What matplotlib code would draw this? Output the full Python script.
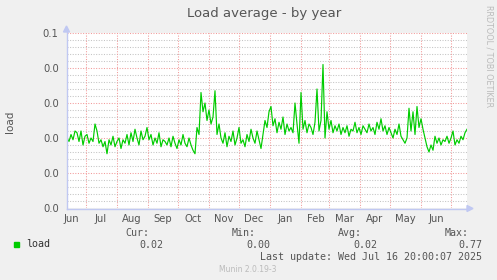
import datetime as dt
import numpy as np
import matplotlib
matplotlib.use("Agg")
import matplotlib.pyplot as plt

# ---- data -------------------------------------------------------------
start = dt.date(2024, 6, 12)          # left edge of the plot
span_days = 400
step_days = 2                          # one sample every 2 days

load = [
    0.040, 0.038, 0.042, 0.039, 0.044, 0.043, 0.038, 0.044, 0.036, 0.041,
    0.042, 0.037, 0.040, 0.038, 0.048,
    0.044, 0.037, 0.039, 0.035, 0.038,
    0.031,
    0.039, 0.036, 0.041, 0.035, 0.038, 0.040, 0.034, 0.039, 0.037,
    0.042, 0.036, 0.043, 0.038, 0.045, 0.040, 0.036, 0.044, 0.039, 0.041,
    0.046,
    0.039, 0.042, 0.036, 0.040, 0.037, 0.043, 0.035, 0.039, 0.038, 0.036,
    0.040, 0.035, 0.041, 0.037, 0.034, 0.039, 0.036, 0.042, 0.037, 0.035,
    0.040, 0.036, 0.033,
    0.031, 0.046, 0.042, 0.066,
    0.055, 0.060, 0.050, 0.056, 0.048, 0.052,
    0.067, 0.042, 0.048,
    0.040, 0.037, 0.043, 0.035, 0.041, 0.038, 0.044, 0.036, 0.040, 0.046,
    0.037, 0.039, 0.035, 0.042, 0.038, 0.045, 0.040, 0.037, 0.044, 0.039,
    0.034,
    0.042, 0.050, 0.046, 0.055, 0.058,
    0.047, 0.051, 0.043, 0.049, 0.045, 0.052, 0.042, 0.048, 0.044, 0.046,
    0.043,
    0.060, 0.048, 0.037, 0.066,
    0.045, 0.050, 0.043, 0.048, 0.046, 0.042, 0.049,
    0.068, 0.044, 0.050, 0.082, 0.040,
    0.055, 0.045, 0.050, 0.043, 0.047,
    0.044, 0.048, 0.042, 0.046, 0.043, 0.047, 0.041, 0.045, 0.044, 0.049,
    0.043, 0.046, 0.042, 0.047, 0.045, 0.043, 0.048, 0.044, 0.046, 0.042,
    0.049, 0.045, 0.051, 0.044, 0.047, 0.042, 0.046, 0.043, 0.040, 0.045,
    0.042, 0.048,
    0.041, 0.039, 0.037, 0.040,
    0.057, 0.044, 0.055, 0.042, 0.058, 0.046, 0.051, 0.045,
    0.040, 0.035, 0.032, 0.036, 0.033,
    0.041, 0.037, 0.040, 0.036, 0.039, 0.038, 0.041, 0.037, 0.040, 0.044,
    0.036, 0.039, 0.037, 0.041, 0.039, 0.043, 0.045,
]

month_labels = ["Jun", "Jul", "Aug", "Sep", "Oct", "Nov", "Dec",
                "Jan", "Feb", "Mar", "Apr", "May", "Jun"]
month_label_dates = [dt.date(2024, 6, 16)] + [
    dt.date(2024 + (m - 1) // 12, (m - 1) % 12 + 1, 16) for m in range(7, 19)]
month_start_dates = [
    dt.date(2024 + (m - 1) // 12, (m - 1) % 12 + 1, 1) for m in range(7, 20)]

y_ticks = [0.0, 0.02, 0.04, 0.06, 0.08, 0.10]
y_tick_labels = ["0.0", "0.0", "0.0", "0.0", "0.0", "0.1"]
y_minor = [0.004 * k for k in range(26)]

title = "Load average - by year"
ylabel = "load"
legend_name = "load"
stats_heads = ["Cur:", "Min:", "Avg:", "Max:"]
stats_vals = ["0.02", "0.00", "0.02", "0.77"]
last_update = "Last update: Wed Jul 16 20:00:07 2025"
footer = "Munin 2.0.19-3"
side_text = "RRDTOOL / TOBI OETIKER"

# ---- figure -----------------------------------------------------------
W, H = 497, 280
fig = plt.figure(figsize=(W / 100, H / 100), dpi=100)
fig.patch.set_facecolor("#F0F0F0")

L, R, T, B = 67, 467, 33, 208
ax = fig.add_axes([L / W, 1 - B / H, (R - L) / W, (B - T) / H])
ax.set_facecolor("white")

def dnum(d):
    return (d - start).days

x = np.arange(len(load)) * step_days
ax.set_xlim(0, span_days)
ax.set_ylim(0, 0.1)

dot = (0, (1, 1.5))
# minor horizontal grid
for v in y_minor:
    if all(abs(v - t) > 1e-9 for t in y_ticks):
        ax.axhline(v, color="#C4C4C4", lw=0.75, ls=dot, zorder=1)
for t in y_ticks:
    ax.axhline(t, color="#F29A9A", lw=0.75, ls=dot, zorder=1)
for d in month_start_dates:
    ax.axvline(dnum(d), color="#F29A9A", lw=0.75, ls=dot, zorder=1)

ax.plot(x, load, color="#00CC00", lw=0.85, zorder=3)

for s in ax.spines.values():
    s.set_visible(False)
ax.set_yticks(y_ticks)
ax.set_yticklabels(y_tick_labels)
ax.set_xticks([dnum(d) for d in month_label_dates])
ax.set_xticklabels(month_labels)
ax.tick_params(axis="both", length=0, labelsize=7.2, colors="#555555")
ax.tick_params(axis="y", pad=6)
ax.tick_params(axis="x", pad=4)

# axis lines with arrows (figure pixel coords)
def fx(px):
    return px / W

def fy(py):
    return 1 - py / H

axis_col = "#C0C8F2"
fig.add_artist(plt.Line2D([fx(66.5), fx(66.5)], [fy(208.5), fy(31)],
                          color=axis_col, lw=1))
fig.add_artist(plt.Line2D([fx(66.5), fx(468)], [fy(208.5), fy(208.5)],
                          color=axis_col, lw=1))
fig.patches.append(plt.Polygon([[fx(63.5), fy(32)], [fx(69.5), fy(32)],
                                [fx(66.5), fy(26)]], closed=True,
                               transform=fig.transFigure, color=axis_col))
fig.patches.append(plt.Polygon([[fx(467), fy(205.5)], [fx(467), fy(211.5)],
                                [fx(473), fy(208.5)]], closed=True,
                               transform=fig.transFigure, color=axis_col))

# texts
fig.text(fx(264), fy(13), title, ha="center", va="center",
         fontsize=9.5, color="#555555")
fig.text(fx(10), fy(122), ylabel, ha="center", va="center",
         rotation=90, fontsize=7.5, color="#555555")
fig.text(fx(489), fy(5), side_text, ha="center", va="top",
         rotation=270, fontsize=5.8, color="#BBBBBB")

mono = "DejaVu Sans Mono"
fig.patches.append(plt.Rectangle((fx(14), fy(246.5)), 5 / W, 5 / H,
                                 transform=fig.transFigure, color="#00CC00"))
fig.text(fx(26), fy(244), legend_name, ha="left", va="center",
         fontsize=7.2, family=mono, color="#333333")
head_x = [149, 256, 362, 469]
val_x = [163, 270, 377, 482]
for hx, vx, h, v in zip(head_x, val_x, stats_heads, stats_vals):
    fig.text(fx(hx), fy(233), h, ha="right", va="center",
             fontsize=7.2, family=mono, color="#555555")
    fig.text(fx(vx), fy(245), v, ha="right", va="center",
             fontsize=7.2, family=mono, color="#555555")
fig.text(fx(482), fy(257), last_update, ha="right", va="center",
         fontsize=7.2, family=mono, color="#555555")
fig.text(fx(248), fy(269), footer, ha="center", va="center",
         fontsize=5.5, color="#BBBBBB")

fig.savefig("out.png", dpi=100, facecolor=fig.get_facecolor())
